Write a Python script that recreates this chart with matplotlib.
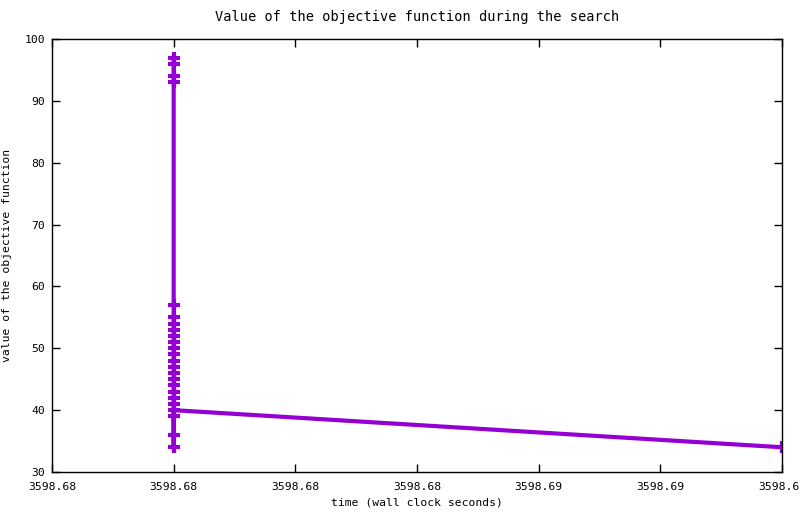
import matplotlib
matplotlib.use("Agg")
import matplotlib.pyplot as plt
from matplotlib.ticker import FormatStrFormatter, MultipleLocator

# objective values logged during the search (all but the last at the same wall clock time)
objective = [97, 96, 94, 93, 57, 55, 54, 53, 52, 51, 50, 49, 48, 47, 46, 45,
             44, 43, 42, 41, 39, 36, 34, 40, 34]
wall_time = [3598.680] * (len(objective) - 1) + [3598.690]

x_range = (3598.678, 3598.690)
y_range = (30, 100)

plt.rcParams['font.family'] = ['DejaVu Sans Mono']
plt.rcParams['font.size'] = 8.2

fig = plt.figure(figsize=(8, 5.14), dpi=100)
ax = fig.add_axes([0.065, 0.0817, 0.9125, 0.8423])

ax.plot(wall_time, objective, color='#9400d3', linewidth=3,
        marker='+', markersize=9, markeredgewidth=3, solid_joinstyle='miter')

ax.set_xlim(*x_range)
ax.set_ylim(*y_range)
ax.xaxis.set_major_locator(MultipleLocator(0.002))
ax.xaxis.set_major_formatter(FormatStrFormatter('%.2f'))
ax.yaxis.set_major_locator(MultipleLocator(10))
ax.tick_params(direction='in', length=6, width=1, top=True, right=True)
ax.tick_params(axis='x', pad=7)
ax.tick_params(axis='y', pad=5)
for s in ax.spines.values():
    s.set_linewidth(1)

ax.set_title('Value of the objective function during the search', pad=13)
ax.set_xlabel('time (wall clock seconds)', labelpad=4)
ax.set_ylabel('value of the objective function', labelpad=9)

fig.savefig('out.png', dpi=100)
